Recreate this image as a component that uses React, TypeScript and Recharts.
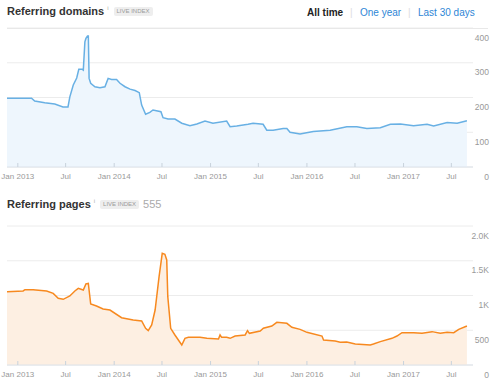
import React from "react";
import { AreaChart, Area, XAxis, YAxis, CartesianGrid } from "recharts";

// x axis ticks
const xTickDates = [
  "2013-01-01", "2013-07-01", "2014-01-01", "2014-07-01", "2015-01-01",
  "2015-07-01", "2016-01-01", "2016-07-01", "2017-01-01", "2017-07-01",
];
const xTickLabels = [
  "Jan 2013", "Jul", "Jan 2014", "Jul", "Jan 2015",
  "Jul", "Jan 2016", "Jul", "Jan 2017", "Jul",
];
const xDomain = ["2012-11-21", "2017-09-21"];

// referring domains
const domainDates = [
  "2012-11-21", "2013-02-22", "2013-03-06", "2013-04-13", "2013-05-21", "2013-06-21",
  "2013-07-10", "2013-07-17", "2013-07-30", "2013-08-12", "2013-08-20", "2013-09-02",
  "2013-09-06", "2013-09-12", "2013-09-16", "2013-09-22", "2013-09-25", "2013-09-28",
  "2013-10-04", "2013-10-20", "2013-11-08", "2013-11-27", "2013-12-09", "2013-12-22",
  "2014-01-10", "2014-01-23", "2014-02-11", "2014-03-02", "2014-03-21", "2014-04-06",
  "2014-04-15", "2014-04-30", "2014-05-16", "2014-05-28", "2014-06-27", "2014-07-05",
  "2014-07-24", "2014-08-19", "2014-09-14", "2014-10-15", "2014-11-10", "2014-12-11",
  "2015-01-10", "2015-03-03", "2015-03-16", "2015-04-10", "2015-05-23", "2015-06-11",
  "2015-07-19", "2015-08-02", "2015-08-26", "2015-10-03", "2015-10-17", "2015-10-29",
  "2015-12-06", "2016-01-25", "2016-03-29", "2016-05-31", "2016-07-08", "2016-08-15",
  "2016-10-05", "2016-11-12", "2016-12-20", "2017-02-08", "2017-03-31", "2017-04-25",
  "2017-06-15", "2017-07-23", "2017-08-29",
];
const domainValues = [
  198, 198, 190, 185, 181, 173,
  173, 202, 236, 256, 281, 281,
  279, 360, 370, 377, 377, 255,
  241, 231, 228, 231, 255, 252,
  252, 241, 231, 224, 220, 214,
  178, 152, 157, 164, 159, 142,
  138, 138, 126, 119, 124, 132,
  126, 132, 116, 118, 123, 126,
  123, 106, 106, 111, 111, 100,
  95, 102, 106, 116, 116, 111,
  113, 123, 124, 119, 123, 118,
  128, 126, 133,
];
const domainTicks = [0, 100, 200, 300, 400];
const domainTickLabels = ["0", "100", "200", "300", "400"];

// referring pages
const pageDates = [
  "2012-11-21", "2013-01-21", "2013-01-28", "2013-02-28", "2013-04-20", "2013-05-15",
  "2013-06-03", "2013-06-22", "2013-07-17", "2013-08-05", "2013-08-18", "2013-09-06",
  "2013-09-16", "2013-09-25", "2013-10-04", "2013-10-26", "2013-11-20", "2013-12-16",
  "2014-01-29", "2014-03-14", "2014-04-15", "2014-04-30", "2014-05-10", "2014-05-23",
  "2014-06-05", "2014-06-20", "2014-07-02", "2014-07-12", "2014-07-19", "2014-07-23",
  "2014-08-03", "2014-08-19", "2014-09-14", "2014-09-26", "2014-10-09", "2014-11-22",
  "2014-12-18", "2015-01-31", "2015-02-06", "2015-02-12", "2015-03-03", "2015-03-16",
  "2015-04-04", "2015-05-12", "2015-05-21", "2015-05-28", "2015-07-08", "2015-07-20",
  "2015-08-21", "2015-09-09", "2015-10-17", "2015-11-05", "2015-12-06", "2016-01-01",
  "2016-02-27", "2016-03-04", "2016-04-17", "2016-05-06", "2016-05-31", "2016-07-02",
  "2016-08-28", "2016-09-09", "2016-10-05", "2016-11-18", "2016-12-07", "2016-12-26",
  "2017-02-08", "2017-03-12", "2017-04-19", "2017-05-20", "2017-06-15", "2017-07-10",
  "2017-07-29", "2017-08-29",
];
const pageValues = [
  1055, 1065, 1084, 1084, 1065, 1031,
  960, 945, 993, 1065, 1103, 1079,
  1166, 1175, 878, 849, 806, 791,
  681, 648, 633, 528, 494, 576,
  791, 1271, 1607, 1593, 1511, 983,
  528, 432, 288, 384, 398, 398,
  384, 374, 432, 398, 398, 384,
  417, 432, 494, 456, 489, 528,
  561, 614, 600, 542, 513, 470,
  417, 360, 345, 326, 331, 302,
  288, 302, 336, 384, 417, 465,
  465, 456, 480, 456, 470, 465,
  513, 561,
];
const pageTicks = [0, 500, 1000, 1500, 2000];
const pageTickLabels = ["0", "500", "1K", "1.5K", "2.0K"];

const FONT = "'Liberation Sans', Arial, sans-serif";
const PLOT_BOTTOM = 167;

const toTime = (s: string) => Date.parse(s);

const domainData = domainDates.map((d, i) => ({ t: toTime(d), value: domainValues[i] }));
const pageData = pageDates.map((d, i) => ({ t: toTime(d), value: pageValues[i] }));

function XTick({ x, payload }: any) {
  const idx = xTickDates.findIndex((d) => toTime(d) === payload.value);
  return (
    <g>
      <line x1={x} x2={x} y1={PLOT_BOTTOM - 4} y2={PLOT_BOTTOM} stroke="#c8d2dc" />
      <text x={x} y={PLOT_BOTTOM + 12} textAnchor="middle" fontSize={8} fill="#999" fontFamily={FONT}>
        {xTickLabels[idx]}
      </text>
    </g>
  );
}

function makeYTick(ticks: number[], labels: string[]) {
  return function YTick({ y, payload }: any) {
    const idx = ticks.indexOf(payload.value);
    return (
      <text x={489} y={y + 12.5} textAnchor="end" fontSize={8.5} fill="#999" fontFamily={FONT}>
        {labels[idx]}
      </text>
    );
  };
}

function Badge() {
  return (
    <span
      style={{
        background: "#eeeeee",
        color: "#9a9a9a",
        fontSize: 6,
        padding: "1px 3px",
        marginLeft: 5,
        borderRadius: 2,
        lineHeight: "7px",
      }}
    >
      LIVE INDEX
    </span>
  );
}

function Title({ text, top, extra }: { text: string; top: number; extra?: string }) {
  return (
    <div
      style={{
        position: "absolute",
        left: 7,
        top,
        display: "flex",
        alignItems: "center",
        fontFamily: FONT,
        whiteSpace: "nowrap",
      }}
    >
      <span style={{ fontSize: 11, fontWeight: "bold", color: "#333" }}>{text}</span>
      <span style={{ fontSize: 6, color: "#aaa", marginLeft: 3, position: "relative", top: -3 }}>i</span>
      <Badge />
      {extra && <span style={{ fontSize: 11, color: "#aaa", marginLeft: 4 }}>{extra}</span>}
    </div>
  );
}

function Chart({
  data,
  ticks,
  labels,
  max,
  stroke,
  fill,
}: {
  data: { t: number; value: number }[];
  ticks: number[];
  labels: string[];
  max: number;
  stroke: string;
  fill: string;
}) {
  return (
    <AreaChart width={496} height={187} data={data} margin={{ top: 28, right: 0, bottom: 0, left: 7 }}>
      <CartesianGrid horizontal vertical={false} stroke="#ececec" />
      <XAxis
        dataKey="t"
        type="number"
        scale="time"
        domain={[toTime(xDomain[0]), toTime(xDomain[1])]}
        ticks={xTickDates.map(toTime)}
        interval={0}
        tick={<XTick />}
        tickLine={false}
        tickSize={0}
        axisLine={{ stroke: "#dde3ea" }}
        height={20}
        allowDataOverflow
      />
      <YAxis
        orientation="right"
        domain={[0, max]}
        ticks={ticks}
        interval={0}
        tick={makeYTick(ticks, labels)}
        axisLine={false}
        tickLine={false}
        width={23}
        allowDataOverflow
      />
      <Area
        type="linear"
        dataKey="value"
        stroke={stroke}
        strokeWidth={1.5}
        fill={fill}
        fillOpacity={1}
        dot={false}
        activeDot={false}
        isAnimationActive={false}
      />
    </AreaChart>
  );
}

export default function App() {
  return (
    <div style={{ position: "absolute", left: 0, top: 0, width: 496, height: 383, background: "#fff", fontFamily: FONT }}>
      <Title text="Referring domains" top={5} />
      <div style={{ position: "absolute", top: 7, left: 307, fontSize: 10, whiteSpace: "nowrap" }}>
        <span style={{ fontWeight: "bold", color: "#222" }}>All time</span>
      </div>
      <div style={{ position: "absolute", top: 7, left: 350, fontSize: 10, color: "#ddd" }}>|</div>
      <div style={{ position: "absolute", top: 7, left: 360, fontSize: 10, color: "#2e86d6", whiteSpace: "nowrap" }}>
        One year
      </div>
      <div style={{ position: "absolute", top: 7, left: 408, fontSize: 10, color: "#ddd" }}>|</div>
      <div style={{ position: "absolute", top: 7, left: 418, fontSize: 10, color: "#2e86d6", whiteSpace: "nowrap" }}>
        Last 30 days
      </div>

      <div style={{ position: "absolute", top: 0, left: 0 }}>
        <Chart data={domainData} ticks={domainTicks} labels={domainTickLabels} max={400} stroke="#68b0e4" fill="#eef6fd" />
      </div>
      <div style={{ position: "absolute", top: 28, left: 7, width: 481, height: 1, background: "#e8e8e8" }} />

      <Title text="Referring pages" top={198} extra="555" />
      <div style={{ position: "absolute", top: 198, left: 0 }}>
        <Chart data={pageData} ticks={pageTicks} labels={pageTickLabels} max={2000} stroke="#f7891f" fill="#fdefe2" />
      </div>
    </div>
  );
}
